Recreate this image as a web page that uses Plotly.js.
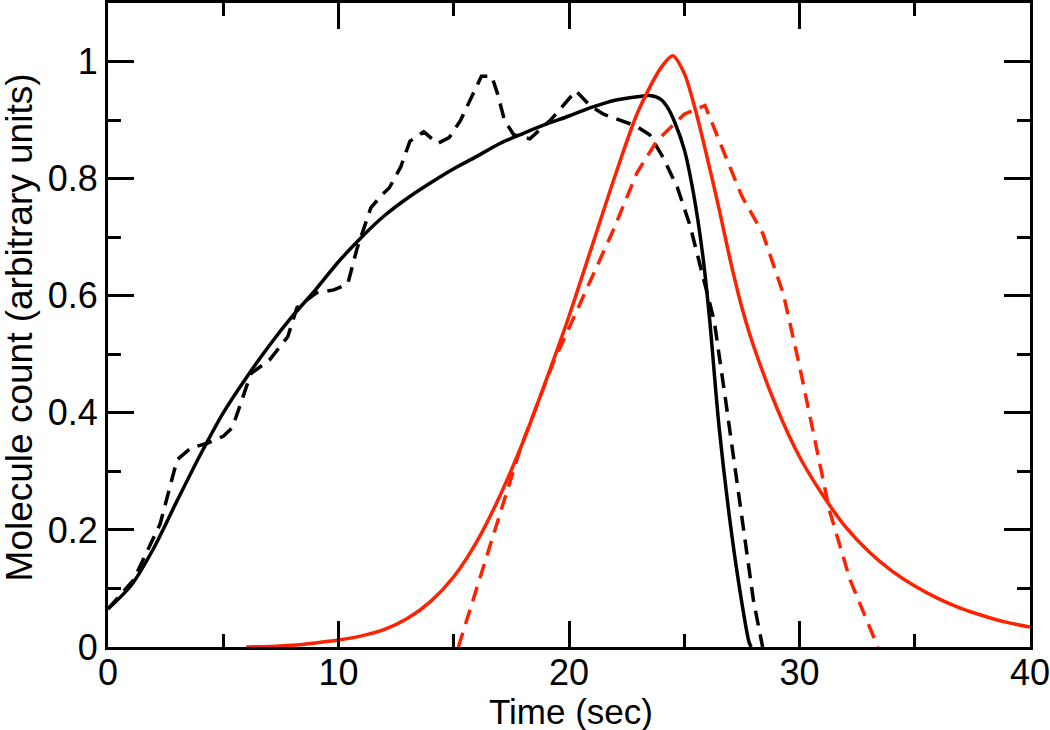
<!DOCTYPE html>
<html>
<head>
<meta charset="utf-8">
<script src="https://cdn.plot.ly/plotly-3.0.1.min.js"></script>
<style>
  html, body { margin: 0; padding: 0; background: #fff; }
  #chart { width: 1050px; height: 730px; }
</style>
</head>
<body>
<div id="chart"></div>
<script>
// black solid: model curve
var blackFitT = [0, 1, 2, 3, 4, 5, 6, 7, 8, 9, 10, 11, 12, 13, 14, 15, 16, 17, 18, 19, 20, 21, 22, 23, 23.5, 24, 24.3, 24.6, 25, 25.4, 25.8, 26.1, 26.5, 27, 27.4, 27.8, 27.9];
var blackFitY = [0.065, 0.105, 0.17, 0.25, 0.328, 0.40, 0.46, 0.515, 0.565, 0.61, 0.658, 0.70, 0.737, 0.767, 0.793, 0.817, 0.838, 0.86, 0.877, 0.893, 0.907, 0.922, 0.934, 0.94, 0.942, 0.935, 0.92, 0.895, 0.85, 0.775, 0.67, 0.56, 0.38, 0.21, 0.10, 0.01, 0];

// black dashed: measured
var blackObsT = [0, 1.1, 2.26, 3.0, 3.6, 4.3, 5.0, 5.4, 6.2, 7.0, 7.8, 8.2, 9.05, 9.8, 10.4, 10.8, 11.4, 11.9, 12.2, 12.7, 13.1, 13.7, 14.3, 14.8, 15.3, 16.2, 16.65, 16.9, 17.2, 17.6, 18.3, 19.2, 20.3, 20.9, 21.5, 22.9, 23.5, 24.1, 24.7, 25.25, 25.7, 26.3, 26.8, 27.4, 28.0, 28.4];
var blackObsY = [0.065, 0.114, 0.21, 0.32, 0.34, 0.348, 0.36, 0.375, 0.467, 0.49, 0.53, 0.58, 0.605, 0.61, 0.62, 0.68, 0.75, 0.773, 0.784, 0.82, 0.864, 0.88, 0.86, 0.87, 0.90, 0.975, 0.975, 0.945, 0.90, 0.875, 0.868, 0.90, 0.95, 0.925, 0.91, 0.89, 0.875, 0.835, 0.785, 0.72, 0.65, 0.557, 0.42, 0.25, 0.08, 0];

// red solid: model curve
var redFitT = [6, 7, 8, 9, 10, 11, 12, 13, 14, 15, 16, 17, 18, 19, 20, 21, 22, 23, 24, 24.5, 25, 25.5, 26, 26.5, 27, 27.5, 28, 29, 30, 31, 32, 33, 34, 35, 36, 37, 38, 39, 40];
var redFitY = [0, 0.001, 0.003, 0.007, 0.012, 0.019, 0.03, 0.049, 0.078, 0.12, 0.18, 0.258, 0.35, 0.455, 0.565, 0.685, 0.805, 0.915, 0.99, 1.01, 0.98, 0.915, 0.835, 0.75, 0.66, 0.58, 0.515, 0.41, 0.325, 0.26, 0.205, 0.163, 0.13, 0.104, 0.083, 0.066, 0.053, 0.042, 0.034];

// red dashed: measured
var redObsT = [15.2, 16, 17, 17.9, 19.3, 20.6, 21.9, 22.95, 23.8, 25.0, 25.9, 26.7, 27.5, 28.4, 29.3, 30.0, 30.45, 31.3, 32.2, 33.4];
var redObsY = [0, 0.1, 0.226, 0.34, 0.484, 0.596, 0.71, 0.81, 0.864, 0.91, 0.925, 0.847, 0.77, 0.707, 0.603, 0.48, 0.392, 0.233, 0.114, 0];

var xTicks = [0, 10, 20, 30, 40];
var xMinor = [5, 15, 25, 35];
var yTicks = [0, 0.2, 0.4, 0.6, 0.8, 1];
var yTickText = ['0', '0.2', '0.4', '0.6', '0.8', '1'];
var yMinor = [0.1, 0.3, 0.5, 0.7, 0.9, 1.1];

var xTitle = 'Time (sec)';
var yTitle = 'Molecule count (arbitrary units)';

var RED = 'rgb(255,34,0)';
var FONT = 'Liberation Sans, Arial, Helvetica, sans-serif';

var data = [
    {
        x: blackObsT, y: blackObsY,
        mode: 'lines', type: 'scatter', name: 'black data',
        line: { color: '#000', width: 3.5, dash: '15px,9px' }
    },
    {
        x: redObsT, y: redObsY,
        mode: 'lines', type: 'scatter', name: 'red data',
        line: { color: RED, width: 3.5, dash: '15px,9px' }
    },
    {
        x: blackFitT, y: blackFitY,
        mode: 'lines', type: 'scatter', name: 'black model',
        line: { color: '#000', width: 3.5, shape: 'spline', smoothing: 0.8 }
    },
    {
        x: redFitT, y: redFitY,
        mode: 'lines', type: 'scatter', name: 'red model',
        line: { color: RED, width: 3.5, shape: 'spline', smoothing: 0.8 }
    }
];

var axisCommon = {
    showgrid: false,
    zeroline: false,
    showline: true,
    linecolor: '#000',
    linewidth: 3,
    mirror: 'allticks',
    ticks: 'inside',
    ticklen: 26,
    tickwidth: 3,
    tickcolor: '#000',
    tickfont: { family: FONT, size: 36, color: '#000' },
    ticklabeloverflow: 'allow',
    automargin: false
};

var layout = {
    width: 1050,
    height: 730,
    margin: { l: 108, r: 20, t: 3, b: 83 },
    paper_bgcolor: '#fff',
    plot_bgcolor: '#fff',
    showlegend: false,
    font: { family: FONT, color: '#000' },
    xaxis: Object.assign({}, axisCommon, {
        range: [0, 40],
        tickvals: xTicks,
        ticktext: xTicks.map(String),
        ticklabelstandoff: -8,
        minor: { tickvals: xMinor, ticks: 'inside', ticklen: 13, tickwidth: 3, tickcolor: '#000' }
    }),
    yaxis: Object.assign({}, axisCommon, {
        range: [0, 1.1],
        tickvals: yTicks,
        ticktext: yTickText,
        minor: { tickvals: yMinor, ticks: 'inside', ticklen: 13, tickwidth: 3, tickcolor: '#000' }
    }),
    // axis titles as annotations so they can sit exactly where the original has them
    annotations: [
        {
            text: xTitle, xref: 'paper', yref: 'paper',
            x: 0.502, y: -0.1, xanchor: 'center', yanchor: 'middle',
            showarrow: false, borderpad: 0, font: { family: FONT, size: 35, color: '#000' }
        },
        {
            text: yTitle, xref: 'paper', yref: 'paper', textangle: -90,
            x: -0.096, y: 0.497, xanchor: 'center', yanchor: 'middle',
            showarrow: false, borderpad: 0, font: { family: FONT, size: 37, color: '#000' }
        }
    ]
};

Plotly.newPlot('chart', data, layout, { staticPlot: true });
</script>
</body>
</html>
